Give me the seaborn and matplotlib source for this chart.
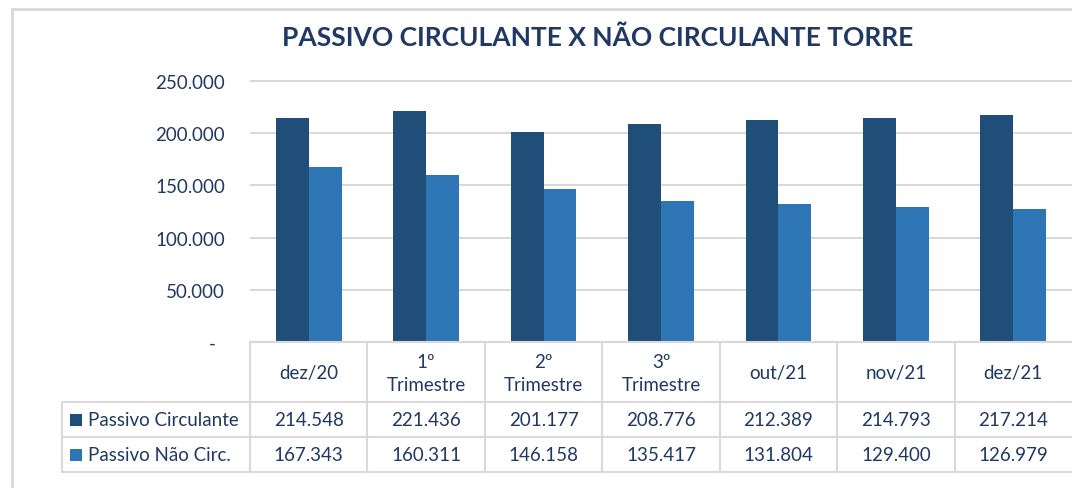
import pandas as pd
import seaborn as sns
import matplotlib.pyplot as plt
from matplotlib import use
from matplotlib.patches import Rectangle
from matplotlib.lines import Line2D

use('agg')

# dados do grafico
periodos = ['dez/20', '1º\nTrimestre', '2º\nTrimestre', '3º\nTrimestre',
            'out/21', 'nov/21', 'dez/21']
series = ['Passivo Circulante', 'Passivo Não Circ.']
passivo_circulante = [214548, 221436, 201177, 208776, 212389, 214793, 217214]
passivo_nao_circ = [167343, 160311, 146158, 135417, 131804, 129400, 126979]
y_ticks = [0, 50000, 100000, 150000, 200000, 250000]
titulo = 'PASSIVO CIRCULANTE X NÃO CIRCULANTE TORRE'

cores = ['#1F4E79', '#2E75B6']
cor_texto = '#203864'
cor_linha = '#D9D9D9'
fs = 13.5


def fmt(v):
    return f'{v:,.0f}'.replace(',', '.')


df = pd.DataFrame({
    'periodo': periodos * 2,
    'serie': [series[0]] * len(periodos) + [series[1]] * len(periodos),
    'valor': passivo_circulante + passivo_nao_circ,
})

sns.set_theme(style='white')
plt.rcParams['font.family'] = ['Lato', 'DejaVu Sans']

W, H = 1072, 489
fig = plt.figure(figsize=(W / 100, H / 100), dpi=100, facecolor='white')


def box(x0, y0, x1, y1):
    # caixa em pixels (origem no topo) -> fracao da figura
    return [x0 / W, 1 - y1 / H, (x1 - x0) / W, (y1 - y0) / H]


# grafico de barras
y_top = 252000
ax = fig.add_axes(box(250, 343 - y_top * 261 / 250000, 1072, 343))
sns.barplot(data=df, x='periodo', y='valor', hue='serie', palette=cores,
            width=0.56, saturation=1, linewidth=0, legend=False, ax=ax)
ax.set_xlim(-0.5, 6.5)
ax.set_ylim(0, y_top)
ax.set_yticks(y_ticks)
ax.set_yticklabels(['-  '] + [fmt(v) for v in y_ticks[1:]])
ax.set_xticks([])
ax.set_xlabel('')
ax.set_ylabel('')
ax.tick_params(axis='y', length=0, pad=18, labelsize=fs, labelcolor=cor_texto)
ax.yaxis.grid(True, color=cor_linha, linewidth=1.5)
ax.set_axisbelow(True)
for s in ax.spines.values():
    s.set_visible(False)

# tabela de dados abaixo do grafico
tax = fig.add_axes(box(250, 343, 1072, 473))
tax.set_xlim(-0.5, 6.5)
tax.set_ylim(473, 343)
tax.axis('off')
k = 7 / 822  # unidades de dados por pixel
x_esq = -0.5 - (250 - 62) * k
lw = 1.5

tax.plot([-0.5, 6.5], [343, 343], color=cor_linha, lw=lw, clip_on=False)
for yy in [403, 438, 473]:
    tax.plot([x_esq, 6.5], [yy, yy], color=cor_linha, lw=lw, clip_on=False)
tax.plot([x_esq, x_esq], [403, 473], color=cor_linha, lw=lw, clip_on=False)
for i in range(len(periodos)):
    tax.plot([i - 0.5, i - 0.5], [343, 473], color=cor_linha, lw=lw, clip_on=False)

for i, p in enumerate(periodos):
    tax.text(i, 374, p, ha='center', va='center', fontsize=fs,
             color=cor_texto, linespacing=1.45)
    tax.text(i, 420.5, fmt(passivo_circulante[i]), ha='center', va='center',
             fontsize=fs, color=cor_texto)
    tax.text(i, 455.5, fmt(passivo_nao_circ[i]), ha='center', va='center',
             fontsize=fs, color=cor_texto)

for j, (nome, cor) in enumerate(zip(series, cores)):
    yc = 420.5 + 35 * j
    tax.add_patch(Rectangle((-0.5 - 180 * k, yc - 6), 12 * k, 12,
                            facecolor=cor, edgecolor='none', clip_on=False))
    tax.text(-0.5 - 162 * k, yc, nome, ha='left', va='center',
             fontsize=fs, color=cor_texto)

# titulo e moldura
fig.text(598 / W, 1 - 38 / H, titulo, ha='center', va='center',
         fontsize=19, fontweight='bold', color='#1F3864')
fig.add_artist(Line2D([12 / W, 12 / W], [0, 1 - 10 / H],
                      color=cor_linha, lw=2, transform=fig.transFigure))
fig.add_artist(Line2D([12 / W, 1], [1 - 10 / H, 1 - 10 / H],
                      color=cor_linha, lw=2, transform=fig.transFigure))

plt.savefig('out.png', dpi=100, facecolor='white')
